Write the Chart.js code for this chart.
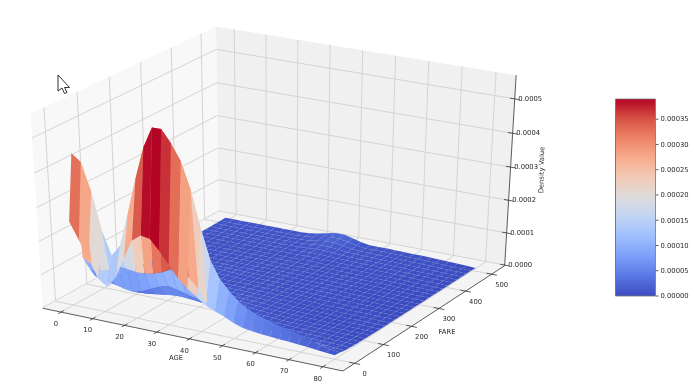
<!DOCTYPE html>
<html>
<head>
<meta charset="utf-8">
<style>
  html, body { margin: 0; background: #fff; }
  canvas { display: block; filter: blur(0.45px); }
</style>
<script src="https://cdn.jsdelivr.net/npm/chart.js@4/dist/chart.umd.js"></script>
</head>
<body>
<canvas id="surfaceChart" width="694" height="388"></canvas>
<script>
// grid nodes of the surface
const ages = [0, 2.76, 5.52, 8.28, 11.03, 13.79, 16.55, 19.31, 22.07, 24.83, 27.59, 30.34, 33.1, 35.86, 38.62,
    41.38, 44.14, 46.9, 49.66, 52.41, 55.17, 57.93, 60.69, 63.45, 66.21, 68.97, 71.72, 74.48, 77.24, 80];
const fares = [0, 17.66, 35.31, 52.97, 70.62, 88.28, 105.93, 123.59, 141.24, 158.9, 176.55, 194.21, 211.86, 229.52, 247.17,
    264.83, 282.48, 300.14, 317.79, 335.45, 353.1, 370.76, 388.41, 406.07, 423.72, 441.38, 459.03, 476.69, 494.34, 512];

// density per fare row, one value per age, in millionths
const densityRows = [
    [250, 200, 150, 95, 75, 110, 170, 230, 250, 245, 215, 180, 145, 120, 100, 80, 68, 58, 45, 35, 31, 28, 26, 23, 22, 20, 18, 15, 12, 10],
    [440, 420, 340, 230, 160, 195, 295, 400, 495, 555, 555, 520, 475, 400, 295, 205, 155, 125, 100, 82, 70, 62, 54, 47, 42, 34, 26, 18, 12, 8],
    [125, 110, 95, 105, 122, 118, 112, 114, 118, 128, 142, 142, 128, 100, 62, 48, 38, 30, 25, 22, 19, 17, 15, 14, 13, 12, 10, 8, 6, 4],
    [85, 75, 60, 50, 42, 38, 46, 58, 70, 78, 72, 65, 58, 50, 40, 30, 25, 20, 16, 14, 12, 11, 10, 9, 8, 7, 6, 5, 4, 3],
    [50, 44, 38, 32, 28, 26, 28, 32, 36, 40, 40, 38, 35, 32, 28, 24, 20, 16, 12, 10, 9, 8, 7, 6, 5, 5, 4, 3, 3, 2],
    [32, 28, 25, 22, 22, 22, 22, 24, 26, 28, 28, 28, 26, 24, 20, 16, 13, 10, 9, 8, 7, 6, 5, 5, 4, 4, 3, 2, 2, 2],
    [26, 24, 22, 20, 20, 20, 20, 21, 22, 23, 24, 24, 22, 20, 17, 14, 11, 9, 8, 7, 5, 4, 4, 3, 3, 3, 2, 2, 1, 1],
    [20, 19, 18, 17, 17, 17, 17, 18, 18, 19, 19, 19, 18, 16, 14, 12, 10, 8, 6, 5, 4, 3, 3, 2, 2, 2, 1, 1, 1, 1],
    [15, 14, 14, 14, 14, 14, 14, 14, 15, 15, 15, 15, 15, 14, 12, 10, 8, 6, 5, 4, 3, 3, 2, 2, 1, 1, 1, 1, 1, 0],
    [11, 11, 10, 10, 10, 10, 10, 11, 11, 11, 11, 11, 11, 10, 9, 8, 7, 5, 4, 3, 3, 2, 2, 2, 1, 1, 1, 1, 0, 0],
    [9, 9, 8, 8, 8, 8, 8, 8, 9, 9, 9, 9, 9, 8, 8, 7, 6, 5, 4, 3, 3, 2, 2, 2, 1, 1, 1, 1, 0, 0],
    [7, 7, 7, 7, 7, 7, 7, 7, 7, 7, 7, 7, 7, 7, 6, 6, 5, 4, 4, 3, 3, 2, 2, 2, 1, 1, 1, 1, 0, 0],
    [6, 6, 6, 6, 6, 6, 6, 6, 6, 6, 6, 6, 6, 6, 5, 5, 4, 4, 4, 3, 3, 2, 2, 2, 1, 1, 1, 0, 0, 0],
    [5, 5, 5, 5, 5, 6, 6, 7, 7, 7, 6, 6, 6, 5, 5, 5, 4, 4, 4, 3, 3, 2, 2, 2, 1, 1, 1, 0, 0, 0],
    [4, 4, 4, 5, 5, 6, 7, 8, 8, 8, 7, 6, 5, 5, 5, 5, 4, 4, 4, 3, 3, 3, 2, 2, 1, 1, 1, 0, 0, 0],
    [4, 4, 4, 5, 5, 6, 8, 9, 9, 8, 7, 6, 5, 5, 5, 5, 4, 4, 4, 4, 3, 3, 2, 2, 1, 1, 1, 0, 0, 0],
    [4, 4, 4, 4, 5, 5, 6, 7, 7, 7, 6, 5, 5, 5, 5, 4, 4, 4, 4, 4, 3, 3, 2, 2, 1, 1, 1, 0, 0, 0],
    [4, 4, 4, 4, 4, 4, 5, 5, 5, 5, 5, 5, 5, 5, 5, 4, 4, 4, 4, 4, 3, 3, 3, 2, 2, 1, 1, 0, 0, 0],
    [4, 4, 4, 4, 4, 4, 5, 5, 5, 5, 5, 5, 5, 5, 5, 5, 4, 4, 4, 4, 3, 3, 3, 2, 2, 1, 1, 0, 0, 0],
    [4, 4, 4, 4, 4, 5, 5, 5, 5, 5, 5, 5, 5, 5, 5, 5, 5, 4, 4, 4, 4, 3, 3, 2, 2, 1, 1, 0, 0, 0],
    [4, 4, 4, 5, 5, 5, 5, 5, 5, 5, 5, 5, 5, 5, 5, 5, 5, 4, 4, 4, 4, 3, 3, 3, 2, 1, 1, 1, 0, 0],
    [5, 5, 5, 5, 5, 5, 5, 5, 5, 5, 5, 5, 5, 5, 5, 5, 5, 5, 4, 4, 4, 4, 3, 3, 2, 2, 1, 1, 0, 0],
    [5, 5, 5, 5, 5, 5, 5, 5, 5, 5, 5, 5, 5, 6, 6, 5, 5, 5, 5, 4, 4, 4, 3, 3, 2, 2, 1, 1, 0, 0],
    [5, 5, 5, 5, 5, 5, 6, 6, 6, 6, 6, 6, 6, 7, 7, 6, 6, 5, 5, 5, 4, 4, 4, 3, 3, 2, 1, 1, 1, 0],
    [6, 6, 6, 6, 6, 6, 6, 6, 6, 6, 6, 6, 7, 8, 8, 7, 6, 6, 5, 5, 5, 4, 4, 3, 3, 2, 2, 1, 1, 0],
    [6, 6, 6, 6, 6, 6, 6, 6, 6, 6, 7, 7, 9, 11, 11, 9, 7, 6, 6, 5, 5, 5, 4, 4, 3, 2, 2, 1, 1, 0],
    [6, 6, 6, 6, 6, 6, 6, 6, 6, 7, 7, 8, 11, 14, 14, 11, 8, 7, 6, 6, 5, 5, 5, 4, 3, 3, 2, 1, 1, 0],
    [7, 7, 7, 7, 7, 7, 7, 7, 7, 7, 8, 10, 14, 18, 18, 14, 9, 7, 7, 6, 6, 5, 5, 4, 4, 3, 2, 1, 1, 0],
    [7, 7, 7, 7, 7, 7, 7, 7, 7, 7, 9, 12, 17, 22, 22, 17, 11, 7, 7, 7, 6, 6, 5, 5, 4, 3, 2, 1, 1, 0],
    [8, 8, 8, 8, 8, 8, 8, 8, 8, 8, 10, 14, 20, 26, 26, 20, 12, 8, 8, 8, 7, 7, 6, 6, 5, 4, 3, 2, 1, 0]
];
const densityUnit = 1e-6;

const ageTicks = [0, 10, 20, 30, 40, 50, 60, 70, 80];
const fareTicks = [0, 100, 200, 300, 400, 500];
const densityTicks = [0, 0.0001, 0.0002, 0.0003, 0.0004, 0.0005];
const colorbarTicks = [0, 0.00005, 0.0001, 0.00015, 0.0002, 0.00025, 0.0003, 0.00035];
const colorbarMax = 0.00039;

// coolwarm colormap stops
const coolwarm = ['#3b4cc0', '#5977e3', '#7b9ff9', '#9ebeff', '#c0d4f5', '#dddcdc', '#f2cbb7', '#f7ac8e', '#ee8468', '#d65244', '#b40426'];

function hexToRgb(hex) {
    return [1, 3, 5].map(i => parseInt(hex.slice(i, i + 2), 16));
}
function colorFor(value) {
    const t = Math.max(0, Math.min(1, value / colorbarMax)) * (coolwarm.length - 1);
    const i = Math.min(Math.floor(t), coolwarm.length - 2);
    const a = hexToRgb(coolwarm[i]);
    const b = hexToRgb(coolwarm[i + 1]);
    const c = a.map((v, k) => Math.round(v + (b[k] - v) * (t - i)));
    return `rgb(${c[0]},${c[1]},${c[2]})`;
}

// same camera as a default 3d axes: elevation 30, azimuth -60, distance 10
const limits = { age: [-5.8, 85.9], fare: [-40, 551], density: [-0.000002, 0.000568] };
const view = { ox: 277.3, oy: 192.8, sx: 3465, sy: 2222 };
const camU = [0.866, 0.5, 0];
const camV = [-0.25, 0.433, 0.866];
const camN = [0.433, -0.75, 0.5];

function project(age, fare, density) {
    const q = [
        (age - limits.age[0]) / (limits.age[1] - limits.age[0]) - 0.5,
        (fare - limits.fare[0]) / (limits.fare[1] - limits.fare[0]) - 0.5,
        (density - limits.density[0]) / (limits.density[1] - limits.density[0]) - 0.5
    ];
    const dot = (a) => a[0] * q[0] + a[1] * q[1] + a[2] * q[2];
    const w = 10 - dot(camN);
    return { x: view.ox + view.sx * dot(camU) / w, y: view.oy - view.sy * dot(camV) / w, w: w };
}

function polygon(points, color) {
    return {
        data: points.map(p => ({ x: p.x, y: p.y })),
        showLine: true, pointRadius: 0, borderWidth: 0, tension: 0,
        fill: 'shape', backgroundColor: color, borderColor: color, clip: false
    };
}
function segment(a, b, color, width) {
    return {
        data: [{ x: a.x, y: a.y }, { x: b.x, y: b.y }],
        showLine: true, pointRadius: 0, borderWidth: width, borderColor: color,
        backgroundColor: color, fill: false, tension: 0, clip: false
    };
}

const [a0, a1] = limits.age;
const [f0, f1] = limits.fare;
const [d0, d1] = limits.density;

// surface facets, nearest first because Chart.js paints the last dataset first
const facets = [];
for (let r = 0; r < fares.length - 1; r++) {
    for (let c = 0; c < ages.length - 1; c++) {
        const corners = [[r, c], [r, c + 1], [r + 1, c + 1], [r + 1, c]].map(([i, j]) =>
            project(ages[j], fares[i], densityRows[i][j] * densityUnit));
        const level = (densityRows[r][c] + densityRows[r][c + 1] + densityRows[r + 1][c] + densityRows[r + 1][c + 1]) / 4 * densityUnit;
        const depth = corners.reduce((s, p) => s + p.w, 0) / 4;
        facets.push({ depth: depth, set: polygon(corners, colorFor(level)) });
    }
}
facets.sort((p, q) => p.depth - q.depth);

// grid lines on the three panes
const gridColor = '#d4d4d4';
const grid = [];
ageTicks.forEach(t => {
    grid.push(segment(project(t, f0, d0), project(t, f1, d0), gridColor, 1));
    grid.push(segment(project(t, f1, d0), project(t, f1, d1), gridColor, 1));
});
fareTicks.forEach(t => {
    grid.push(segment(project(a0, t, d0), project(a1, t, d0), gridColor, 1));
    grid.push(segment(project(a0, t, d0), project(a0, t, d1), gridColor, 1));
});
densityTicks.forEach(t => {
    grid.push(segment(project(a0, f0, t), project(a0, f1, t), gridColor, 1));
    grid.push(segment(project(a0, f1, t), project(a1, f1, t), gridColor, 1));
});

const panes = [
    polygon([project(a0, f0, d0), project(a1, f0, d0), project(a1, f1, d0), project(a0, f1, d0)], '#f4f4f4'),
    polygon([project(a0, f0, d0), project(a0, f1, d0), project(a0, f1, d1), project(a0, f0, d1)], '#f8f8f8'),
    polygon([project(a0, f1, d0), project(a1, f1, d0), project(a1, f1, d1), project(a0, f1, d1)], '#f0f0f0')
];

// axis lines and tick marks
const axisColor = '#333';
const axes = [
    segment(project(a0, f0, d0), project(a1, f0, d0), axisColor, 0.8),
    segment(project(a1, f0, d0), project(a1, f1, d0), axisColor, 0.8),
    segment(project(a1, f1, d0), project(a1, f1, d1), axisColor, 0.8)
];
ageTicks.forEach(t => axes.push(segment(project(t, f0 + 9, d0), project(t, f0 - 9, d0), axisColor, 0.8)));
fareTicks.forEach(t => axes.push(segment(project(a1 - 1.6, t, d0), project(a1 + 1.6, t, d0), axisColor, 0.8)));
densityTicks.forEach(t => axes.push(segment(project(a1 - 1.4, f1, t), project(a1 + 1.4, f1, t), axisColor, 0.8)));

// colorbar on the right, one rectangle with the colormap as its gradient
const bar = { left: 615.5, right: 655.5, top: 99, bottom: 296 };
const barY = v => bar.bottom - (bar.bottom - bar.top) * v / colorbarMax;
const canvas = document.getElementById('surfaceChart');
const barGradient = canvas.getContext('2d').createLinearGradient(0, bar.bottom, 0, bar.top);
coolwarm.forEach((c, i) => barGradient.addColorStop(i / (coolwarm.length - 1), c));
const barCorners = [
    { x: bar.left, y: bar.bottom }, { x: bar.right, y: bar.bottom },
    { x: bar.right, y: bar.top }, { x: bar.left, y: bar.top }
];
const colorbar = polygon(barCorners, barGradient);
const barFrame = barCorners.map((p, i) => segment(p, barCorners[(i + 1) % 4], '#777', 0.8));
colorbarTicks.forEach(v => barFrame.push(segment({ x: bar.right, y: barY(v) }, { x: bar.right + 3, y: barY(v) }, '#333', 0.8)));

// tick labels, axis titles and the stray mouse pointer in the screenshot
const labelsPlugin = {
    id: 'labels3d',
    afterDatasetsDraw(chart) {
        const ctx = chart.ctx;
        ctx.save();
        ctx.font = '6.8px "DejaVu Sans"';
        ctx.fillStyle = '#2a2a2a';
        ctx.textAlign = 'center';
        ctx.textBaseline = 'middle';
        ageTicks.forEach(t => {
            const p = project(t, f0, d0);
            ctx.fillText(String(t), p.x - 5, p.y + 12);
        });
        fareTicks.forEach(t => {
            const p = project(a1, t, d0);
            ctx.fillText(String(t), p.x + 10, p.y + 11);
        });
        densityTicks.forEach(t => {
            const p = project(a1, f1, t);
            ctx.fillText(t.toFixed(4), p.x + 15.5, p.y);
        });
        ctx.fillText('AGE', 176, 358);
        ctx.fillText('FARE', 447, 332);
        ctx.textAlign = 'left';
        colorbarTicks.forEach(v => ctx.fillText(v.toFixed(5), bar.right + 5, barY(v) + 0.5));
        ctx.textAlign = 'center';
        ctx.translate(542, 170);
        ctx.rotate(-Math.PI / 2 + 0.02);
        ctx.fillText('Density Value', 0, 0);
        ctx.restore();

        ctx.save();
        ctx.beginPath();
        [[58, 75], [58, 91], [62, 88], [64.5, 93.5], [67, 92.5], [64.5, 87.5], [69.5, 87.5]].forEach(([x, y], i) => {
            if (i === 0) ctx.moveTo(x, y); else ctx.lineTo(x, y);
        });
        ctx.closePath();
        ctx.fillStyle = '#fff';
        ctx.fill();
        ctx.strokeStyle = '#1c1c2a';
        ctx.lineWidth = 0.9;
        ctx.stroke();
        ctx.restore();
    }
};

new Chart(canvas, {
    type: 'scatter',
    data: {
        datasets: [...barFrame, colorbar, ...facets.map(f => f.set), ...axes, ...grid, ...panes]
    },
    options: {
        responsive: false,
        animation: false,
        events: [],
        layout: { padding: 0 },
        scales: {
            x: { type: 'linear', min: 0, max: 694, display: false },
            y: { type: 'linear', min: 0, max: 388, reverse: true, display: false }
        },
        plugins: { legend: { display: false }, tooltip: { enabled: false }, title: { display: false } }
    },
    plugins: [labelsPlugin]
});
</script>
</body>
</html>
